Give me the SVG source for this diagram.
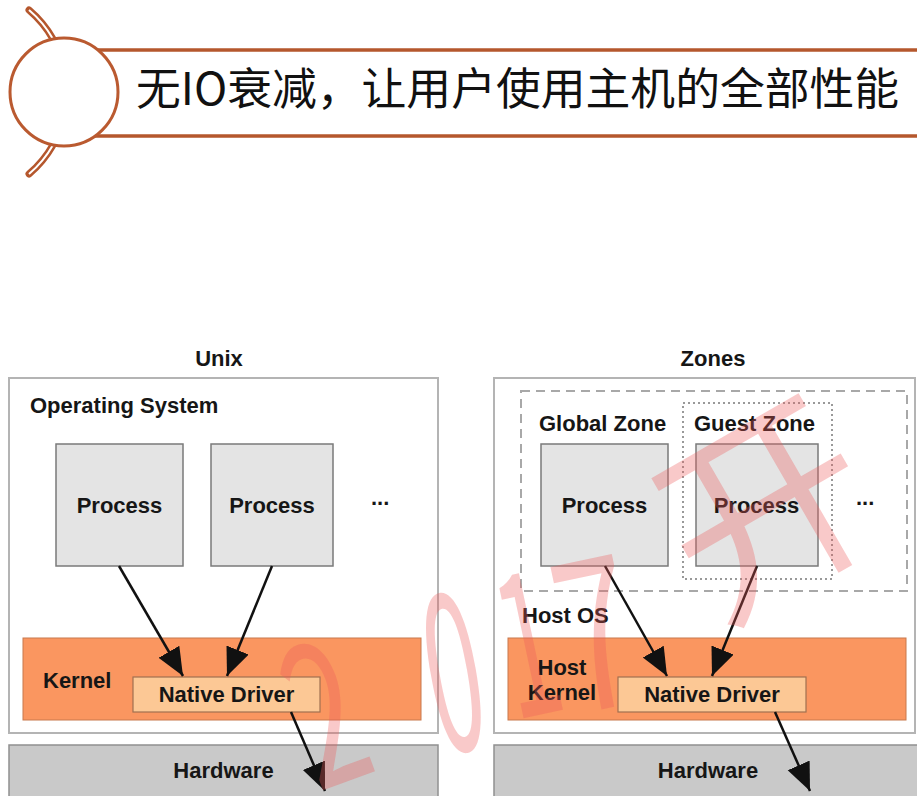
<svg xmlns="http://www.w3.org/2000/svg" width="917" height="796" viewBox="0 0 917 796">
<style>
.t{font-family:"Liberation Sans",Arial,sans-serif;font-weight:bold;font-size:22px;fill:#161616}
.c{text-anchor:middle}
.outer{fill:#fff;stroke:#b4b4b4;stroke-width:2}
.proc{fill:#e4e4e4;stroke:#7a7a7a;stroke-width:1.5}
.kern{fill:#fa9660;stroke:#c8784c;stroke-width:1}
.drv{fill:#fcc895;stroke:#a07050;stroke-width:1.2}
.hw{fill:#c9c9c9;stroke:#909090;stroke-width:1.5}
.arr{stroke:#111;stroke-width:2.5;fill:none;marker-end:url(#ah)}
.brown{stroke:#b5572d;fill:none}
.wm{font-family:"Noto Sans CJK SC","Liberation Sans",sans-serif;fill:#ee5a5a;fill-opacity:0.33}
</style>
<defs>
<marker id="ah" markerUnits="userSpaceOnUse" markerWidth="30" markerHeight="26" refX="28" refY="12" orient="auto">
<path d="M0,0 L28,12 L0,24 z" fill="#111"/>
</marker>
</defs>
<rect width="917" height="796" fill="#fff"/>

<g id="header">
<path class="brown" d="M29,10 A107,107 0 0 1 53,39" stroke-width="7" stroke-linecap="round"/>
<path d="M29,10 A107,107 0 0 1 53,39" stroke="#fff" stroke-width="2" fill="none"/>
<path class="brown" d="M53,145 A107,107 0 0 1 29,174" stroke-width="7" stroke-linecap="round"/>
<path d="M53,145 A107,107 0 0 1 29,174" stroke="#fff" stroke-width="2" fill="none"/>
<line class="brown" x1="64" y1="50" x2="917" y2="50" stroke-width="3.5"/>
<line class="brown" x1="64" y1="136" x2="917" y2="136" stroke-width="3.5"/>
<circle cx="64" cy="92" r="54" fill="#fff" stroke="#ba5a30" stroke-width="3"/>
<text x="136" y="105" font-family="'Noto Sans CJK SC','Liberation Sans',sans-serif" font-size="44.8" fill="#111">无IO衰减，让用户使用主机的全部性能</text>
</g>

<g id="unix">
<text class="t c" x="219" y="366">Unix</text>
<rect class="outer" x="9" y="378" width="429" height="355"/>
<text class="t" x="30" y="413">Operating System</text>
</g>
<g id="unix-process1">
<rect class="proc" x="56" y="444" width="127" height="122"/>
<text class="t c" x="119.5" y="513">Process</text>
</g>
<g id="unix-process2">
<rect class="proc" x="211" y="444" width="122" height="122"/>
<text class="t c" x="272" y="513">Process</text>
</g>
<text class="t" x="371" y="505" font-size="17">...</text>
<g id="unix-kernel">
<rect class="kern" x="23" y="638" width="398" height="82"/>
<text class="t" x="43" y="688">Kernel</text>
</g>
<g id="unix-driver">
<rect class="drv" x="133" y="677" width="187" height="35"/>
<text class="t c" x="226.5" y="702">Native Driver</text>
</g>
<g id="unix-hardware">
<rect class="hw" x="9" y="745" width="429" height="60"/>
<text class="t c" x="223.5" y="778">Hardware</text>
</g>

<g id="zones">
<text class="t c" x="713" y="366">Zones</text>
<rect class="outer" x="494" y="378" width="421" height="355"/>
<rect x="521" y="391" width="386" height="200" fill="none" stroke="#a8a8a8" stroke-width="2" stroke-dasharray="9,6"/>
<text class="t" x="539" y="431">Global Zone</text>
<text class="t" x="522" y="623">Host OS</text>
</g>
<g id="guest-zone">
<rect x="683" y="403" width="149" height="176" fill="none" stroke="#999" stroke-width="2" stroke-dasharray="2,3"/>
<text class="t" x="694" y="431">Guest Zone</text>
</g>
<g id="zones-process1">
<rect class="proc" x="541" y="444" width="127" height="122"/>
<text class="t c" x="604.5" y="513">Process</text>
</g>
<g id="zones-process2">
<rect class="proc" x="696" y="444" width="122" height="122"/>
<text class="t c" x="756.5" y="513">Process</text>
</g>
<text class="t" x="856" y="505" font-size="17">...</text>
<g id="zones-kernel">
<rect class="kern" x="508" y="638" width="398" height="82"/>
<text class="t c" x="562" y="675">Host</text>
<text class="t c" x="562" y="700">Kernel</text>
</g>
<g id="zones-driver">
<rect class="drv" x="618" y="677" width="188" height="35"/>
<text class="t c" x="712" y="702">Native Driver</text>
</g>
<g id="zones-hardware">
<rect class="hw" x="494" y="745" width="430" height="60"/>
<text class="t c" x="708" y="778">Hardware</text>
</g>

<g id="connectors">
<line class="arr" x1="119" y1="566" x2="183" y2="676"/>
<line class="arr" x1="272" y1="566" x2="227" y2="676"/>
<line class="arr" x1="291" y1="712" x2="325" y2="791"/>
<line class="arr" x1="605" y1="566" x2="667" y2="676"/>
<line class="arr" x1="757" y1="566" x2="712" y2="676"/>
<line class="arr" x1="775" y1="712" x2="810" y2="791"/>
</g>

<g id="watermark">
<text class="wm" font-size="200" transform="translate(318,792) rotate(-20) scale(0.6,1)">2</text>
<text class="wm" font-size="220" transform="translate(440,755) rotate(-10) scale(0.45,1)">0</text>
<text class="wm" font-size="200" transform="translate(515,720) rotate(-12) scale(0.5,1)">1</text>
<text class="wm" font-size="210" transform="translate(575,715) rotate(-12) scale(0.65,1)">7</text>
<text class="wm" font-size="205" transform="translate(715,625) rotate(-30)">开</text>
</g>
</svg>
